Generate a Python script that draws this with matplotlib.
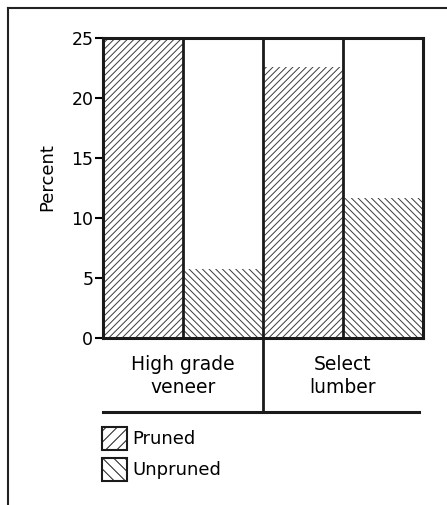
import matplotlib.pyplot as plt
from matplotlib.lines import Line2D
from matplotlib.patches import Patch

plt.rcParams['font.family'] = ['DejaVu Sans']
plt.rcParams['hatch.linewidth'] = 0.7

categories = ['High grade\nveneer', 'Select\nlumber']
pruned = [25.0, 22.6]
unpruned = [5.75, 11.7]
series_names = ['Pruned', 'Unpruned']

fig = plt.figure(figsize=(4.47, 5.05), dpi=100)
fig.patch.set_facecolor('white')
ax = fig.add_axes([0.2304, 0.3307, 0.716, 0.594])

x_pruned = [0, 2]
x_unpruned = [1, 3]
ax.bar(x_pruned, pruned, width=1.0, facecolor='white', edgecolor='#3a3a3a',
       linewidth=0, hatch='/////', label=series_names[0])
ax.bar(x_unpruned, unpruned, width=1.0, facecolor='white', edgecolor='#3a3a3a',
       linewidth=0, hatch='\\\\\\\\\\', label=series_names[1])

# separators between bars
for xs in [0.5, 2.5]:
    ax.axvline(xs, color='#1a1a1a', lw=2)
ax.plot([1.5, 1.5], [25, -6.2], color='#1a1a1a', lw=2, clip_on=False)
ax.plot([-0.5, 3.45], [-6.2, -6.2], color='#1a1a1a', lw=2.2, clip_on=False)

ax.set_xlim(-0.5, 3.5)
ax.set_ylim(0, 25)
ax.set_yticks([0, 5, 10, 15, 20, 25])
ax.tick_params(axis='y', direction='out', length=6, width=1.5, labelsize=12.5, pad=1)
ax.set_xticks([])
for s in ax.spines.values():
    s.set_linewidth(2.2)
    s.set_color('#1a1a1a')
ax.set_ylabel('Percent', fontsize=13)
ax.yaxis.set_label_coords(-0.147, 0.537)

# category labels
for i, lab in enumerate(categories):
    ax.text(0.5 + 2 * i, -1.4, lab, ha='center', va='top', fontsize=13.5,
            linespacing=1.3)

# legend
handles = [Patch(facecolor='white', edgecolor='#1a1a1a', linewidth=1.5, hatch='///'),
           Patch(facecolor='white', edgecolor='#1a1a1a', linewidth=1.5, hatch='\\\\\\')]
fig.legend(handles, series_names, loc='upper left', bbox_to_anchor=(0.228, 0.155),
           frameon=False, fontsize=13, handlelength=1.38, handleheight=1.58,
           handletextpad=0.3, labelspacing=0.45, borderpad=0, borderaxespad=0)

# outer frame
fig.add_artist(Line2D([8 / 447, 8 / 447], [0, 1 - 8 / 505], color='#222222', lw=1.5))
fig.add_artist(Line2D([8 / 447, 1], [1 - 8 / 505, 1 - 8 / 505], color='#222222', lw=1.5))

fig.savefig('out.png', dpi=100, facecolor='white')
